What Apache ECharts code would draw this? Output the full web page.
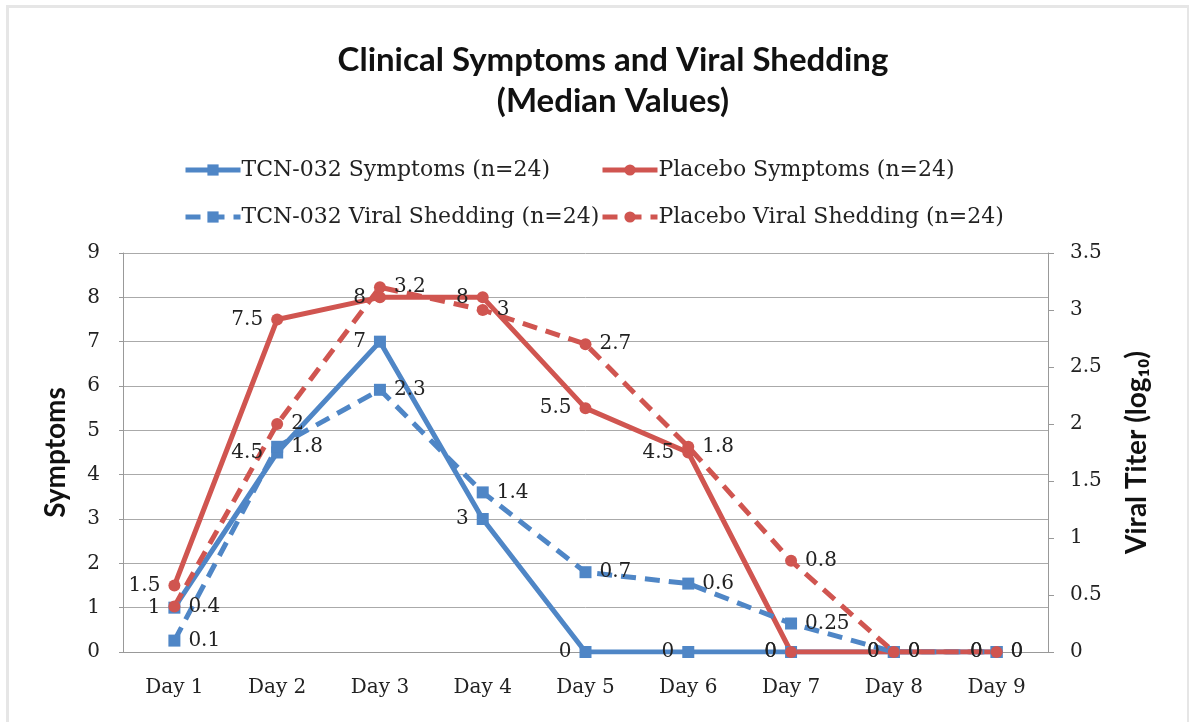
<!DOCTYPE html>
<html>
<head>
<meta charset="utf-8">
<script src="https://cdn.jsdelivr.net/npm/echarts@6/dist/echarts.min.js"></script>
<style>
  html, body { margin: 0; padding: 0; background: #fff; }
  #frame {
    position: absolute; left: 6px; top: 5px; width: 1178px; height: 714px;
    border: 3px solid #e6e6e6; border-right-width: 2px; border-bottom: none;
  }
  #chart { position: absolute; left: 0; top: 0; width: 1190px; height: 724px; }
</style>
</head>
<body>
<div id="frame"></div>
<div id="chart"></div>
<script>
// categories and values
const days = ['Day 1', 'Day 2', 'Day 3', 'Day 4', 'Day 5', 'Day 6', 'Day 7', 'Day 8', 'Day 9']
const tcnSymptoms = [1, 4.5, 7, 3, 0, 0, 0, 0, 0]
const placeboSymptoms = [1.5, 7.5, 8, 8, 5.5, 4.5, 0, 0, 0]
const tcnShedding = [0.1, 1.8, 2.3, 1.4, 0.7, 0.6, 0.25, 0, 0]
const placeboShedding = [0.4, 2, 3.2, 3, 2.7, 1.8, 0.8, 0, 0]

const seriesNames = [
  'TCN-032 Symptoms (n=24)',
  'Placebo Symptoms (n=24)',
  'TCN-032 Viral Shedding (n=24)',
  'Placebo Viral Shedding (n=24)'
]

const BLUE = '#4f86c6'
const RED = '#d05550'
const SERIF = '"DejaVu Serif", "Liberation Serif", serif'
const SANS = 'Lato, "Open Sans", "Noto Sans", sans-serif'

const chart = echarts.init(document.getElementById('chart'))

function legendAt(name, left, top) {
  return {
    data: [name],
    left: left,
    top: top,
    padding: 0,
    itemWidth: 55,
    itemHeight: 14,
    itemGap: 2,
    lineStyle: { width: 5 },
    textStyle: { fontFamily: SERIF, fontSize: 22, color: '#222', padding: [0, 0, 0, -4] }
  }
}

function lineSeries(name, data, color, symbol, dashed, yAxisIndex, labelPos) {
  return {
    name: name,
    type: 'line',
    data: data,
    yAxisIndex: yAxisIndex,
    symbol: symbol,
    symbolSize: 12,
    itemStyle: { color: color },
    lineStyle: { width: 5, color: color, type: dashed ? [15, 9] : 'solid' },
    label: {
      show: true,
      position: labelPos,
      distance: 8,
      fontFamily: SERIF,
      fontSize: 20,
      color: '#222'
    },
    z: 2
  }
}

chart.setOption({
  animation: false,
  backgroundColor: 'transparent',
  title: {
    text: 'Clinical Symptoms and Viral Shedding\n(Median Values)',
    left: 608,
    textAlign: 'center',
    top: 35,
    textStyle: { fontFamily: SANS, fontWeight: 'bold', fontSize: 33, lineHeight: 41, color: '#111' }
  },
  legend: [
    legendAt(seriesNames[0], 183, 159),
    legendAt(seriesNames[1], 600, 159),
    legendAt(seriesNames[2], 183, 206),
    legendAt(seriesNames[3], 600, 206)
  ],
  grid: { left: 123, right: 142, top: 253, bottom: 72 },
  xAxis: {
    type: 'category',
    data: days,
    boundaryGap: true,
    axisLine: { lineStyle: { color: '#999', width: 1 } },
    axisTick: { show: false },
    axisLabel: { fontFamily: SERIF, fontSize: 20, color: '#222', margin: 26 }
  },
  yAxis: [
    {
      type: 'value',
      min: 0,
      max: 9,
      interval: 1,
      name: 'Symptoms',
      nameLocation: 'middle',
      nameGap: 53,
      nameTextStyle: { fontFamily: SANS, fontWeight: 'bold', fontSize: 28, color: '#111' },
      axisLine: { show: true, lineStyle: { color: '#999' } },
      axisTick: { show: true, length: 4, lineStyle: { color: '#999' } },
      splitLine: { lineStyle: { color: '#aaa', width: 1 } },
      axisLabel: { fontFamily: SERIF, fontSize: 20, color: '#222', margin: 23 }
    },
    {
      type: 'value',
      position: 'right',
      min: 0,
      max: 3.5,
      interval: 0.5,
      name: 'Viral Titer (log₁₀)',
      nameLocation: 'middle',
      nameGap: 75,
      nameTextStyle: { fontFamily: SANS, fontWeight: 'bold', fontSize: 28, color: '#111' },
      axisLine: { show: true, lineStyle: { color: '#999' } },
      axisTick: { show: true, length: 6, lineStyle: { color: '#999' } },
      splitLine: { show: false },
      axisLabel: { fontFamily: SERIF, fontSize: 20, color: '#222', margin: 22 }
    }
  ],
  series: [
    lineSeries(seriesNames[0], tcnSymptoms, BLUE, 'rect', false, 0, 'left'),
    lineSeries(seriesNames[1], placeboSymptoms, RED, 'circle', false, 0, 'left'),
    lineSeries(seriesNames[2], tcnShedding, BLUE, 'rect', true, 1, 'right'),
    lineSeries(seriesNames[3], placeboShedding, RED, 'circle', true, 1, 'right')
  ]
})
</script>
</body>
</html>
